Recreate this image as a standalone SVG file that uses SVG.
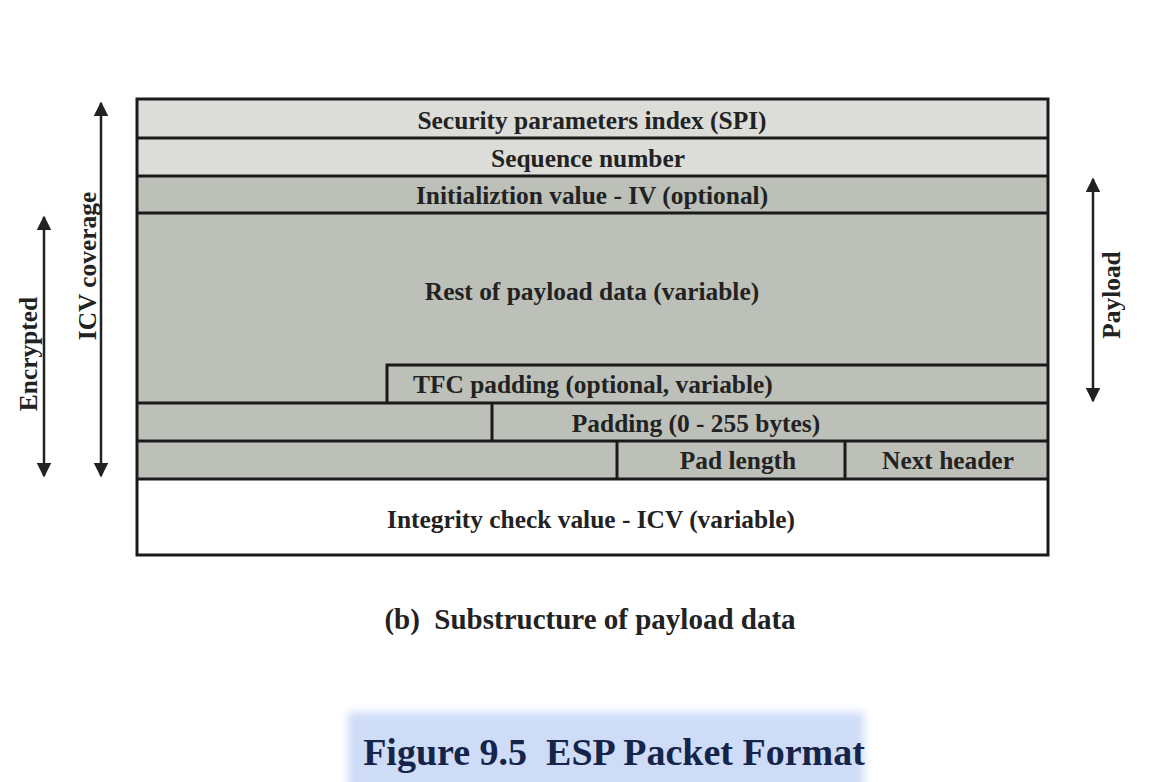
<svg xmlns="http://www.w3.org/2000/svg" width="1160" height="782" viewBox="0 0 1160 782">
<defs>
<style>
.t{font-family:"Liberation Serif","Times New Roman",serif;font-weight:bold;font-size:25.4px;fill:#222;}
.ln{stroke:#1a1a1a;stroke-width:3;fill:none;}
.ar{stroke:#222;stroke-width:2.5;fill:none;}
</style>
<marker id="ah" viewBox="0 0 10 10" refX="9" refY="5" markerWidth="6.5" markerHeight="5.8" orient="auto-start-reverse" markerUnits="strokeWidth">
<path d="M0,0 L10,5 L0,10 Z" fill="#222"/>
</marker>
<filter id="bl" x="-10%" y="-30%" width="120%" height="160%"><feGaussianBlur stdDeviation="4"/></filter>
</defs>
<rect width="1160" height="782" fill="#fff"/>
<g id="fields">
<rect x="137" y="99" width="911" height="39" fill="#dcddd8"/>
<rect x="137" y="138" width="911" height="38" fill="#dcddd8"/>
<rect x="137" y="176" width="911" height="303" fill="#bcc0b9"/>
<rect x="137" y="479" width="911" height="76" fill="#fff"/>
<path class="ln" d="M137,138 H1048 M137,176 H1048 M137,213 H1048 M387,403 V365 H1048 M137,403 H1048 M492,441 V403 M137,441 H1048 M617,479 V441 M845,441 V479 M137,479 H1048"/>
<rect class="ln" x="137" y="99" width="911" height="456"/>
</g>
<g id="labels">
<text class="t" x="592" y="129" text-anchor="middle">Security parameters index (SPI)</text>
<text class="t" x="588" y="167" text-anchor="middle">Sequence number</text>
<text class="t" x="592" y="204" text-anchor="middle">Initializtion value - IV (optional)</text>
<text class="t" x="592" y="300" text-anchor="middle">Rest of payload data (variable)</text>
<text class="t" x="413" y="393">TFC padding (optional, variable)</text>
<text class="t" x="696" y="432" text-anchor="middle">Padding (0 - 255 bytes)</text>
<text class="t" x="738" y="469" text-anchor="middle">Pad length</text>
<text class="t" x="948" y="469" text-anchor="middle">Next header</text>
<text class="t" x="591" y="528" text-anchor="middle">Integrity check value - ICV (variable)</text>
</g>
<g id="connectors">
<line class="ar" x1="44" y1="217" x2="44" y2="476" marker-start="url(#ah)" marker-end="url(#ah)"/>
<line class="ar" x1="101" y1="103" x2="101" y2="476" marker-start="url(#ah)" marker-end="url(#ah)"/>
<line class="ar" x1="1093" y1="179" x2="1093" y2="401" marker-start="url(#ah)" marker-end="url(#ah)"/>
</g>
<g id="side-labels">
<text class="t" transform="translate(37,354) rotate(-90)" text-anchor="middle">Encrypted</text>
<text class="t" transform="translate(96,266) rotate(-90)" text-anchor="middle">ICV coverage</text>
<text class="t" transform="translate(1120,295) rotate(-90)" text-anchor="middle">Payload</text>
</g>
<g id="caption">
<text class="t" x="590" y="629" text-anchor="middle" xml:space="preserve" style="font-size:29px">(b)  Substructure of payload data</text>
</g>
<g id="title">
<rect x="348" y="712" width="516" height="80" fill="#cfdcf8" filter="url(#bl)"/>
<text x="614" y="765" text-anchor="middle" xml:space="preserve" style="font-family:'Liberation Serif','Times New Roman',serif;font-weight:bold;font-size:38px;fill:#15244a">Figure 9.5  ESP Packet Format</text>
</g>
</svg>
